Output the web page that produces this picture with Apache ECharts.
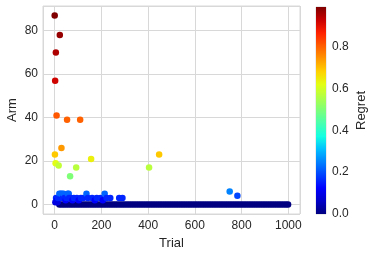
<!DOCTYPE html>
<html>
<head>
<meta charset="utf-8">
<script src="https://cdn.jsdelivr.net/npm/echarts@6/dist/echarts.min.js"></script>
<style>html,body{margin:0;padding:0;background:#fff}#c{width:374px;height:256px}</style>
</head>
<body>
<div id="c"></div>
<script>
// Arm 0 pulls (regret 0)
const zeroArmTrials = [20,30,40,50,60,70,80,90,100,110,120,130,140,150,160,170,180,190,200,210,220,230,240,250,260,270,280,290,300,310,320,330,340,350,360,370,380,390,400,410,420,430,440,450,460,470,480,490,500,510,520,530,540,550,560,570,580,590,600,610,620,630,640,650,660,670,680,690,700,710,720,730,740,750,760,770,780,790,800,810,820,830,840,850,860,870,880,890,900,910,920,930,940,950,960,970,980,990,999];
// Other pulls
const otherTrials  = [0,1,2,3,4,5,6,8,9,12,14,17,20,22,24,26,29,31,35,38,42,47,50,53,56,60,62,66,70,76,82,92,95,103,109,112,122,136,142,156,160,172,180,196,206,214,222,238,276,290,404,447,749,782];
const otherArms    = [87,23,57,1,19,70,3,41,2,1,3,18,5,78,3,5,26,5,3,5,3,2,3,39,5,5,3,13,3,2,3,17,3,2,39,3,3,5,3,21,3,2,3,3,2,5,3,3,3,3,17,23,6,4];
const otherRegrets = [0.99,0.69,0.92,0.09,0.62,0.95,0.16,0.81,0.12,0.09,0.16,0.58,0.22,0.97,0.16,0.22,0.74,0.22,0.16,0.22,0.16,0.12,0.16,0.80,0.22,0.22,0.16,0.50,0.16,0.12,0.16,0.57,0.16,0.12,0.80,0.16,0.16,0.22,0.16,0.64,0.16,0.12,0.16,0.16,0.12,0.22,0.16,0.16,0.16,0.16,0.57,0.69,0.25,0.19];
const xTicks = [0,200,400,600,800,1000];
const regretMax = 0.99;

const jet = ['#000080','#0000c8','#0000ff','#0040ff','#0080ff','#00bfff','#14ffe2','#48ffaf','#7bff7b','#afff48','#e2ff14','#ffd200','#ff9700','#ff5c00','#ff2100','#c80000','#800000'];

const data = [];
zeroArmTrials.forEach(t => data.push([t, 0, 0]));
otherTrials.forEach((t, i) => data.push([t, otherArms[i], otherRegrets[i]]));

const txt = '#262626';
const gridCol = '#d8d8d8';
const chart = echarts.init(document.getElementById('c'), null, {renderer: 'canvas'});
chart.setOption({
  animation: false,
  backgroundColor: '#ffffff',
  textStyle: {fontFamily: 'Liberation Sans, Arial, sans-serif'},
  grid: [
    {left: 43, right: 74, top: 6, bottom: 42, show: true, borderColor: gridCol, borderWidth: 1, backgroundColor: '#fff', containLabel: false, outerBoundsMode: 'none'},
    {left: 316, width: 10, top: 7, bottom: 42, show: true, borderColor: gridCol, borderWidth: 1, containLabel: false, outerBoundsMode: 'none'}
  ],
  xAxis: [
    {type: 'value', gridIndex: 0, min: -50, max: 1050, splitNumber: 5,
     name: 'Trial', nameLocation: 'middle', nameGap: 20,
     nameTextStyle: {color: txt, fontSize: 13},
     axisLine: {show: false}, axisTick: {show: false},
     axisLabel: {color: txt, fontSize: 12, margin: 6, showMinLabel: false, showMaxLabel: false,
       formatter: v => xTicks.indexOf(v) >= 0 ? String(v) : ''},
     splitLine: {show: true, lineStyle: {color: gridCol, width: 1}}},
    {type: 'category', gridIndex: 1, data: ['c'], show: false}
  ],
  yAxis: [
    {type: 'value', gridIndex: 0, min: -4.35, max: 91.35, splitNumber: 5,
     name: 'Arm', nameLocation: 'middle', nameGap: 24, nameRotate: 90, nameMoveOverlap: false,
     nameTextStyle: {color: txt, fontSize: 13},
     axisLine: {show: false}, axisTick: {show: false},
     axisLabel: {color: txt, fontSize: 12, margin: 5, showMinLabel: false, showMaxLabel: false},
     splitLine: {show: true, lineStyle: {color: gridCol, width: 1}}},
    {type: 'value', gridIndex: 1, min: 0, max: regretMax, interval: 0.2, position: 'right',
     name: 'Regret', nameLocation: 'middle', nameGap: 29, nameRotate: 90,
     nameTextStyle: {color: txt, fontSize: 13},
     axisLine: {show: false}, axisTick: {show: false}, splitLine: {show: false},
     axisLabel: {color: txt, fontSize: 12, margin: 6, showMaxLabel: false, formatter: v => v.toFixed(1)}}
  ],
  visualMap: {show: false, type: 'continuous', min: 0, max: regretMax, dimension: 2, seriesIndex: 0, inRange: {color: jet}},
  series: [
    {type: 'scatter', xAxisIndex: 0, yAxisIndex: 0, symbolSize: 6.5, data: data, itemStyle: {opacity: 1}},
    {type: 'bar', xAxisIndex: 1, yAxisIndex: 1, barWidth: '100%', data: [regretMax], silent: true,
     itemStyle: {color: new echarts.graphic.LinearGradient(0, 1, 0, 0, jet.map((c, i) => ({offset: i / (jet.length - 1), color: c})))}}
  ]
});
</script>
</body>
</html>
